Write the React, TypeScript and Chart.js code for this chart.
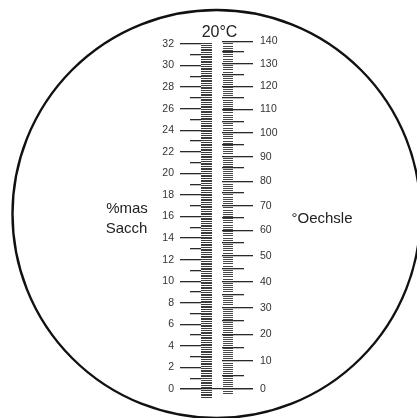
import React, { useEffect, useRef } from 'react';
import { Chart, registerables } from 'chart.js';

Chart.register(...registerables);

const W = 417;
const H = 418;

// shared vertical range, in %mas Sacch units
const Y_MIN = -1.948;
const Y_MAX = 35.339;

// left scale: %mas Sacch
const sacchLabelValues = [0, 2, 4, 6, 8, 10, 12, 14, 16, 18, 20, 22, 24, 26, 28, 30, 32];
const sacchMinorValues = [1, 3, 5, 7, 9, 11, 13, 15, 17, 19, 21, 23, 25, 27, 29, 31];
const sacchHatchRange = [-0.8, 32];

// right scale: °Oechsle, placed where it reads against %mas Sacch
const oechsleLabels = ['0', '10', '20', '30', '40', '50', '60', '70', '80', '90', '100', '110', '120', '130', '140'];
const oechsleMajorAtSacch = [0, 2.6, 5.07, 7.54, 9.95, 12.37, 14.72, 17.0, 19.27, 21.55, 23.78, 25.95, 28.08, 30.18, 32.25];
const oechsleMinorAtSacch = [1.23, 3.83, 6.31, 8.78, 11.2, 13.61, 15.93, 18.18, 20.53, 22.7, 24.83, 26.99, 29.12, 31.29];
const oechsleHatchRange = [-0.55, 32.25];
const zeroLineValues = [0];

const topTitle = '20°C';
const leftTitle = ['%mas', 'Sacch'];
const rightTitle = '°Oechsle';

const INK = '#2a2a2a';
const FONT = "'Liberation Sans', Arial, Helvetica, sans-serif";

const noLayoutFootprint = (s: any) => {
  s.width = 0;
  s.paddingTop = 0;
  s.paddingBottom = 0;
  s.paddingLeft = 0;
  s.paddingRight = 0;
};

function markScale(x: number, len: number, color: string, width: number, opts: { values?: number[]; step?: number; range?: number[] }) {
  const { values, step, range } = opts;
  const scale: any = {
    type: 'linear',
    axis: 'y',
    position: { x },
    min: Y_MIN,
    max: Y_MAX,
    border: { display: false },
    grid: {
      display: true,
      drawOnChartArea: false,
      drawTicks: true,
      tickLength: len,
      lineWidth: width,
      tickWidth: width,
      tickColor: range
        ? (ctx: any) => {
            const v = ctx.tick ? ctx.tick.value : NaN;
            return v >= range[0] - 1e-6 && v <= range[1] + 1e-6 ? color : 'rgba(0,0,0,0)';
          }
        : color,
    },
    ticks: { display: false, autoSkip: false },
    afterFit: noLayoutFootprint,
  };
  if (step) scale.ticks.stepSize = step;
  if (values) scale.afterBuildTicks = (s: any) => { s.ticks = values.map((v) => ({ value: v })); };
  return scale;
}

const decorations = {
  id: 'refractometerDecor',
  beforeDraw(chart: any) {
    const { ctx } = chart;
    ctx.save();
    ctx.fillStyle = '#ffffff';
    ctx.fillRect(0, 0, chart.width, chart.height);
    ctx.beginPath();
    ctx.arc(216.5, 214, 204, 0, Math.PI * 2);
    ctx.lineWidth = 2.4;
    ctx.strokeStyle = '#111111';
    ctx.stroke();
    ctx.restore();
  },
  afterDraw(chart: any) {
    const { ctx } = chart;
    ctx.save();
    ctx.fillStyle = '#222222';
    ctx.textAlign = 'center';
    ctx.textBaseline = 'alphabetic';
    ctx.font = `16px ${FONT}`;
    ctx.fillText(topTitle, 219.5, 36.5);
    ctx.font = `15px ${FONT}`;
    ctx.fillText(leftTitle[0], 127, 213);
    ctx.fillText(leftTitle[1], 126.5, 233);
    ctx.fillText(rightTitle, 322, 223);
    ctx.restore();
  },
};

export default function App() {
  const ref = useRef<HTMLCanvasElement>(null);
  useEffect(() => {
    if (!ref.current) return;
    const tickFont = { family: FONT, size: 10.5 };
    const chart = new Chart(ref.current, {
      type: 'scatter',
      data: { datasets: [] },
      options: {
        responsive: false,
        maintainAspectRatio: false,
        animation: false,
        devicePixelRatio: 1,
        layout: { padding: { top: 8, bottom: 8, left: 0, right: 0 } },
        plugins: { legend: { display: false }, tooltip: { enabled: false }, title: { display: false } },
        scales: {
          x: { type: 'linear', min: 0, max: W, display: false },
          yOeText: {
            type: 'linear',
            axis: 'y',
            position: 'left',
            min: Y_MIN,
            max: Y_MAX,
            border: { display: false },
            grid: { display: false, drawTicks: false },
            ticks: {
              mirror: true,
              padding: 260,
              crossAlign: 'near',
              autoSkip: false,
              font: tickFont,
              color: '#333333',
              callback: (_v: any, i: number) => oechsleLabels[i],
            },
            afterBuildTicks: (s: any) => { s.ticks = oechsleMajorAtSacch.map((v) => ({ value: v })); },
            afterFit: noLayoutFootprint,
          } as any,
          ySacchText: {
            type: 'linear',
            axis: 'y',
            position: { x: 174 },
            min: Y_MIN,
            max: Y_MAX,
            border: { display: false },
            grid: { display: false, drawTicks: false },
            ticks: { autoSkip: false, font: tickFont, color: '#333333', callback: (v: any) => String(v) },
            afterBuildTicks: (s: any) => { s.ticks = sacchLabelValues.map((v) => ({ value: v })); },
            afterFit: noLayoutFootprint,
          } as any,
          ySacchHatch: markScale(212, 11, '#3c3c3c', 1, { step: 0.16, range: sacchHatchRange }),
          yOeHatch: markScale(233, 10, '#484848', 1, { step: 0.2, range: oechsleHatchRange }),
          ySacchMajor: markScale(201, 21, INK, 1.3, { values: sacchLabelValues }),
          ySacchMinor: markScale(201, 11, INK, 1.3, { values: sacchMinorValues }),
          yOeMajor: markScale(253, 31, INK, 1.3, { values: oechsleMajorAtSacch }),
          yOeMinor: markScale(244, 22, INK, 1.3, { values: oechsleMinorAtSacch }),
          yZero: markScale(253, 73, INK, 1.3, { values: zeroLineValues }),
        } as any,
      },
      plugins: [decorations],
    } as any);
    return () => chart.destroy();
  }, []);
  return (
    <div style={{ position: 'fixed', left: 0, top: 0, width: W, height: H, background: '#fff' }}>
      <canvas ref={ref} width={W} height={H} style={{ display: 'block', width: W, height: H }} />
    </div>
  );
}
